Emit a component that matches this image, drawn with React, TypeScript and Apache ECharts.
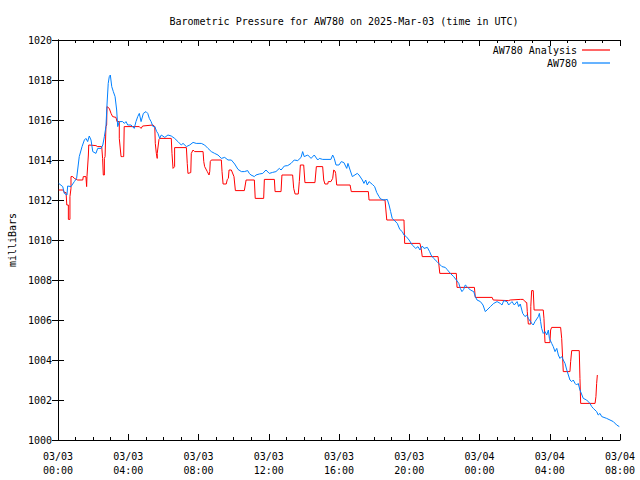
import React, { useEffect, useRef } from "react";
import * as echarts from "echarts";

// Hours since 2025-03-03 00:00 UTC, pressure in millibars
const stationHours = [
  0.04, 0.27, 0.36, 0.51, 0.55, 0.74, 0.93, 1.06, 1.21, 1.37, 1.5, 1.59, 1.69, 1.78, 1.88, 1.98,
  2.16, 2.26, 2.45, 2.55, 2.64, 2.73, 2.79, 2.86, 2.92, 2.98, 3.06, 3.15, 3.25, 3.34, 3.4, 3.49,
  3.68, 3.78, 3.87, 3.97, 4.16, 4.34, 4.44, 4.54, 4.63, 4.73, 4.86, 5.01, 5.11, 5.2, 5.3, 5.41,
  5.51, 5.62, 5.69, 5.79, 5.88, 6.08, 6.26, 6.45, 6.64, 6.83, 7.02, 7.12, 7.31, 7.5, 7.69, 7.87,
  8.16, 8.35, 8.54, 8.73, 8.92, 9.11, 9.3, 9.49, 9.68, 9.87, 10.06, 10.25, 10.44, 10.61, 10.8, 10.89,
  10.99, 11.18, 11.27, 11.46, 11.66, 11.84, 12.03, 12.22, 12.41, 12.6, 12.7, 12.89, 13.08, 13.27, 13.45, 13.65,
  13.84, 13.93, 14.02, 14.22, 14.41, 14.59, 14.79, 14.88, 15.07, 15.54, 15.64, 15.73, 15.83, 16.0, 16.13, 16.28,
  16.44, 16.51, 16.63, 16.76, 17.04, 17.14, 17.33, 17.42, 17.52, 17.61, 17.71, 17.9, 18.03, 18.15, 18.28, 18.37,
  18.56, 18.75, 18.85, 18.94, 19.03, 19.13, 19.32, 19.46, 19.6, 19.7, 19.83, 19.99, 20.17, 20.37, 20.5, 20.61,
  20.74, 20.84, 21.03, 21.16, 21.24, 21.39, 21.58, 21.68, 21.86, 22.05, 22.15, 22.34, 22.53, 22.68, 22.82, 22.91,
  23.0, 23.1, 23.19, 23.29, 23.48, 23.67, 23.76, 23.86, 24.05, 24.2, 24.33, 24.43, 24.62, 24.81, 25.0, 25.18,
  25.28, 25.38, 25.57, 25.66, 25.85, 25.98, 26.14, 26.23, 26.32, 26.46, 26.59, 26.69, 26.78, 26.97, 27.06, 27.16,
  27.35, 27.41, 27.48, 27.54, 27.63, 27.73, 27.83, 27.92, 27.98, 28.11, 28.2, 28.3, 28.4, 28.49, 28.58, 28.68,
  28.77, 28.87, 28.97, 29.06, 29.15, 29.25, 29.34, 29.44, 29.53, 29.62, 29.72, 29.91, 30.1, 30.29, 30.39, 30.48,
  30.67, 30.76, 30.86, 30.96, 31.24, 31.43, 31.62, 31.81, 31.96,
];
const stationPressure = [
  1012.83, 1012.67, 1012.33, 1012.25, 1012.7, 1012.67, 1012.92, 1013.08, 1014.17, 1014.67, 1015.0, 1015.08, 1014.92, 1015.2, 1015.0, 1014.42,
  1014.33, 1014.58, 1014.58, 1014.75, 1015.17, 1015.67, 1016.75, 1017.83, 1018.17, 1018.25, 1017.67, 1017.42, 1017.17, 1016.5, 1015.67, 1015.92,
  1015.92, 1015.83, 1015.92, 1015.75, 1015.75, 1015.58, 1015.92, 1016.17, 1016.33, 1015.92, 1016.33, 1016.42, 1016.33, 1016.08, 1015.92, 1015.67,
  1015.67, 1015.42, 1015.33, 1015.08, 1015.25, 1015.13, 1015.25, 1015.2, 1015.08, 1014.92, 1014.75, 1014.83, 1014.67, 1014.75, 1014.88, 1014.83,
  1014.83, 1014.75, 1014.58, 1014.42, 1014.33, 1014.25, 1014.08, 1014.13, 1014.0, 1014.0, 1013.8, 1013.53, 1013.42, 1013.42, 1013.47, 1013.33,
  1013.25, 1013.17, 1013.25, 1013.3, 1013.33, 1013.5, 1013.33, 1013.38, 1013.42, 1013.58, 1013.5, 1013.7, 1013.72, 1013.83, 1014.0, 1013.97,
  1014.13, 1014.42, 1014.17, 1014.25, 1014.08, 1014.25, 1014.0, 1014.08, 1014.03, 1014.03, 1014.25, 1014.08, 1013.75, 1013.75, 1013.92, 1013.87,
  1013.58, 1013.83, 1013.5, 1013.17, 1013.33, 1013.25, 1013.0, 1012.83, 1013.0, 1012.75, 1012.92, 1012.78, 1012.67, 1012.37, 1012.17, 1012.05,
  1012.0, 1012.03, 1011.75, 1011.42, 1011.08, 1011.0, 1010.83, 1010.53, 1010.42, 1010.25, 1010.17, 1010.0, 1009.75, 1009.58, 1009.67, 1009.5,
  1009.7, 1009.58, 1009.63, 1009.42, 1009.25, 1009.08, 1008.92, 1008.83, 1008.67, 1008.63, 1008.53, 1008.33, 1008.17, 1008.0, 1007.83, 1007.58,
  1007.42, 1007.53, 1007.75, 1007.67, 1007.5, 1007.42, 1007.17, 1007.0, 1006.92, 1006.75, 1006.42, 1006.5, 1006.67, 1006.83, 1006.92, 1006.83,
  1006.75, 1006.97, 1006.92, 1006.75, 1006.92, 1006.75, 1006.92, 1006.67, 1006.8, 1006.33, 1006.17, 1006.25, 1006.08, 1005.83, 1005.75, 1005.92,
  1006.17, 1006.33, 1005.92, 1005.58, 1005.33, 1005.42, 1005.25, 1005.5, 1005.08, 1004.83, 1004.67, 1004.42, 1004.58, 1004.25, 1004.08, 1004.17,
  1004.0, 1003.83, 1003.5, 1003.25, 1003.0, 1002.92, 1003.0, 1002.83, 1002.75, 1002.83, 1002.5, 1002.08, 1002.0, 1001.83, 1001.67, 1001.58,
  1001.42, 1001.25, 1001.33, 1001.17, 1001.08, 1001.0, 1000.92, 1000.75, 1000.67,
];

const analysisHours = [
  0.04, 0.3, 0.36, 0.46, 0.5, 0.59, 0.59, 0.68, 0.68, 0.74, 0.74, 0.84, 0.93, 1.12, 1.41, 1.44,
  1.59, 1.63, 1.65, 1.73, 1.75, 2.16, 2.26, 2.49, 2.54, 2.58, 2.64, 2.64, 2.68, 2.73, 2.77, 2.79,
  2.92, 3.02, 3.11, 3.3, 3.36, 3.49, 3.49, 3.53, 3.59, 3.68, 3.74, 3.77, 4.63, 4.73, 4.82, 5.41,
  5.51, 5.54, 5.6, 5.65, 5.65, 5.75, 5.79, 6.45, 6.49, 6.55, 6.64, 6.64, 7.31, 7.36, 7.4, 7.56,
  7.59, 7.69, 7.78, 8.26, 8.3, 8.35, 8.5, 8.6, 8.64, 8.67, 8.73, 9.3, 9.34, 9.4, 9.58, 9.64,
  9.7, 9.74, 9.87, 10.02, 10.1, 10.61, 10.71, 11.18, 11.23, 11.71, 11.75, 12.32, 12.36, 12.7, 12.75, 13.36,
  13.42, 13.5, 13.68, 13.74, 13.8, 13.99, 14.06, 14.63, 14.71, 15.07, 15.13, 15.2, 15.36, 15.39, 15.54, 15.64,
  15.7, 15.77, 15.81, 15.87, 16.63, 16.7, 17.67, 17.71, 18.62, 18.72, 19.7, 19.74, 20.61, 20.69, 20.74, 21.64,
  21.74, 22.68, 22.72, 23.71, 23.76, 24.72, 24.78, 25.66, 25.75, 26.32, 26.49, 26.59, 26.69, 26.72, 26.78, 26.92,
  26.92, 26.97, 27.06, 27.11, 27.63, 27.67, 27.73, 28.01, 28.05, 28.11, 28.62, 28.68, 28.77, 29.15, 29.19, 29.25,
  29.68, 29.72, 29.76, 30.58, 30.63, 30.67, 30.71,
];
const analysisPressure = [
  1012.5, 1012.5, 1012.37, 1012.37, 1011.75, 1011.75, 1011.03, 1011.03, 1012.17, 1012.58, 1013.17, 1013.17, 1013.08, 1013.0, 1013.0, 1013.17,
  1013.17, 1012.67, 1013.17, 1014.25, 1014.75, 1014.72, 1014.67, 1014.67, 1014.08, 1013.25, 1013.25, 1014.08, 1014.17, 1015.67, 1015.75, 1016.67,
  1016.58, 1016.33, 1016.17, 1016.13, 1015.92, 1015.92, 1015.08, 1015.08, 1014.17, 1014.17, 1014.17, 1015.67, 1015.67, 1015.58, 1015.7, 1015.75,
  1015.67, 1014.83, 1014.33, 1014.08, 1014.33, 1015.03, 1015.08, 1015.08, 1014.33, 1013.58, 1013.67, 1014.62, 1014.62, 1013.83, 1013.33, 1013.37,
  1014.33, 1014.5, 1014.42, 1014.42, 1013.92, 1013.67, 1013.42, 1013.25, 1013.42, 1013.92, 1014.0, 1014.0, 1013.42, 1012.8, 1012.8, 1013.03,
  1013.08, 1013.5, 1013.5, 1013.17, 1012.47, 1012.47, 1013.0, 1013.0, 1012.08, 1012.08, 1013.03, 1013.03, 1012.42, 1012.42, 1013.25, 1013.25,
  1012.58, 1012.3, 1012.3, 1012.92, 1013.75, 1013.75, 1012.87, 1012.87, 1013.67, 1013.67, 1013.0, 1012.8, 1012.8, 1012.92, 1012.92, 1013.08,
  1013.5, 1013.45, 1013.33, 1012.75, 1012.75, 1012.42, 1012.42, 1012.0, 1012.0, 1011.0, 1011.0, 1009.83, 1009.83, 1009.5, 1009.17, 1009.17,
  1008.33, 1008.33, 1007.63, 1007.63, 1007.13, 1007.13, 1007.0, 1006.97, 1007.0, 1007.03, 1007.03, 1006.92, 1006.87, 1006.42, 1005.8, 1005.8,
  1006.67, 1007.47, 1007.47, 1006.5, 1006.5, 1006.08, 1004.87, 1004.87, 1005.5, 1005.63, 1005.63, 1005.08, 1003.42, 1003.42, 1003.92, 1004.47,
  1004.47, 1003.08, 1001.83, 1001.83, 1002.17, 1002.83, 1003.25,
];

const xTickHours = [0, 4, 8, 12, 16, 20, 24, 28, 32];
const dayLabels = ["03/03", "03/04"];
const yTicks = [1000, 1002, 1004, 1006, 1008, 1010, 1012, 1014, 1016, 1018, 1020];

const FONT = "DejaVu Sans Mono";

function fmtHour(v: number): string {
  const h = Math.round(v);
  const day = dayLabels[Math.floor(h / 24)] ?? dayLabels[dayLabels.length - 1];
  const hh = String(h % 24).padStart(2, "0");
  return `${day}\n${hh}:00`;
}

export default function App() {
  const ref = useRef<HTMLDivElement>(null);
  useEffect(() => {
    if (!ref.current) return;
    const chart = echarts.init(ref.current, undefined, { renderer: "svg" });
    const xMin = xTickHours[0];
    const xMax = xTickHours[xTickHours.length - 1];
    const xInt = xTickHours[1] - xTickHours[0];
    const yMin = yTicks[0];
    const yMax = yTicks[yTicks.length - 1];
    const yInt = yTicks[1] - yTicks[0];
    const axisLine = { show: true, lineStyle: { color: "#000", width: 1 } };
    const tick = { show: true, inside: true, length: 6, lineStyle: { color: "#000" } };
    const minor = { show: true, splitNumber: 4, length: 3, lineStyle: { color: "#000" } };
    const labelStyle = { fontFamily: FONT, fontSize: 10, color: "#000" };
    chart.setOption({
      animation: false,
      backgroundColor: "#fff",
      title: {
        text: "Barometric Pressure for AW780 on 2025-Mar-03 (time in UTC)",
        left: 339,
        textAlign: "center",
        top: 11,
        textStyle: { fontFamily: FONT, fontSize: 10, fontWeight: "normal", color: "#000" },
      },
      legend: [
        {
          data: ["AW780 Analysis"],
          right: 30,
          top: 45,
          align: "right",
          icon: "rect",
          itemWidth: 28,
          itemHeight: 1.2,
          padding: 0,
          textStyle: labelStyle,
        },
        {
          data: ["AW780"],
          right: 30,
          top: 58,
          align: "right",
          icon: "rect",
          itemWidth: 28,
          itemHeight: 1.2,
          padding: 0,
          textStyle: labelStyle,
        },
      ],
      grid: { left: 58, right: 20, top: 40, bottom: 40, outerBoundsMode: "none", containLabel: false },
      xAxis: [
        {
          type: "value",
          min: xMin,
          max: xMax,
          interval: xInt,
          axisLine,
          axisTick: tick,
          minorTick: minor,
          splitLine: { show: false },
          axisLabel: { ...labelStyle, formatter: fmtHour, lineHeight: 14, margin: 9 },
        },
        {
          type: "value",
          position: "top",
          min: xMin,
          max: xMax,
          interval: xInt,
          axisLine,
          axisTick: tick,
          minorTick: minor,
          splitLine: { show: false },
          axisLabel: { show: false },
        },
      ],
      yAxis: [
        {
          type: "value",
          min: yMin,
          max: yMax,
          interval: yInt,
          name: "milliBars",
          nameLocation: "middle",
          nameGap: 41,
          nameRotate: 90,
          nameTextStyle: labelStyle,
          axisLine,
          axisTick: tick,
          splitLine: { show: false },
          axisLabel: { ...labelStyle, margin: 6, formatter: (v: number) => String(v) },
        },
        {
          type: "value",
          position: "right",
          min: yMin,
          max: yMax,
          interval: yInt,
          axisLine,
          axisTick: tick,
          splitLine: { show: false },
          axisLabel: { show: false },
        },
      ],
      series: [
        {
          name: "AW780 Analysis",
          type: "line",
          xAxisIndex: 0,
          yAxisIndex: 0,
          data: analysisHours.map((h, i) => [h, analysisPressure[i]]),
          showSymbol: false,
          symbol: "none",
          lineStyle: { color: "#ff0000", width: 1 },
          itemStyle: { color: "#ff0000" },
          z: 2,
        },
        {
          name: "AW780",
          type: "line",
          xAxisIndex: 0,
          yAxisIndex: 0,
          data: stationHours.map((h, i) => [h, stationPressure[i]]),
          showSymbol: false,
          symbol: "none",
          lineStyle: { color: "#0080ff", width: 1 },
          itemStyle: { color: "#0080ff" },
          z: 3,
        },
      ],
    });
    return () => chart.dispose();
  }, []);
  return <div ref={ref} style={{ width: 640, height: 480, position: "absolute", left: 0, top: 0 }} />;
}
